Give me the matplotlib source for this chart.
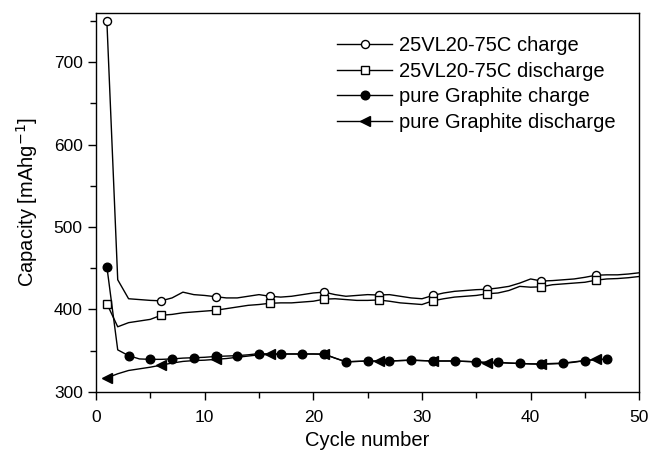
import numpy as np
import matplotlib

matplotlib.use("Agg")
import matplotlib.pyplot as plt
from matplotlib.ticker import MultipleLocator

plt.rcParams["font.family"] = ["Liberation Sans", "DejaVu Sans"]

# 25VL20-75C, cycles 1..50
vl_charge = [
    750, 436, 413, 412, 411, 410.5, 414, 421, 418, 417,
    415.5, 414, 414, 416, 418, 416, 415, 416, 418, 420,
    421, 418, 416, 417, 418, 417.5, 418, 416, 414, 413,
    417, 420, 422, 423, 424, 424.5, 426, 428, 432, 437,
    434.5, 435, 436, 437, 439, 441.5, 442, 442, 443, 444.5,
]
vl_discharge = [
    407, 379, 384, 386, 388, 393, 394, 396, 397, 398,
    399, 401, 403, 405, 406, 407.5, 408, 408, 409, 410,
    412.5, 413, 412, 411, 411, 411.5, 410, 408, 407, 406,
    410.5, 413, 415, 416, 417, 419, 420, 423, 428, 427,
    427.5, 430, 431, 432, 433, 435.5, 437, 437.5, 438.5, 440,
]

# pure graphite
gr_charge = [
    452, 351, 344, 340, 339.5, 339.5, 340, 341, 341.5, 342,
    343, 343.5, 344, 345, 346.5, 346, 346, 346, 346, 346,
    346, 341, 336.5, 337, 337.5, 337.5, 337.5, 338, 338.5, 338,
    337.5, 337.5, 337.5, 337, 336.5, 336, 336, 335, 334.5, 334,
    334, 334.5, 335, 336.5, 338, 339, 340,
]
gr_discharge = [
    317, 322, 326, 328, 330, 332.5, 335, 337, 338, 338.5,
    339.5, 340.5, 342, 343.5, 345, 345.5, 346, 346, 346, 346,
    345.5, 341, 336.5, 337, 337.5, 337, 337.5, 338, 338.5, 338,
    337.5, 337.5, 337.5, 337, 336.5, 334.5, 335.5, 335, 334.5, 334,
    333.5, 334, 334.5, 336, 338, 339.5,
]

labels = [
    "25VL20-75C charge",
    "25VL20-75C discharge",
    "pure Graphite charge",
    "pure Graphite discharge",
]

fig = plt.figure(figsize=(6.53, 4.51), dpi=100)
ax = fig.add_axes((0.147, 0.131, 0.832, 0.841))

cyc = lambda v: np.arange(1, len(v) + 1)

ax.plot(cyc(vl_charge), vl_charge, color="black", lw=1.0, marker="o", ms=5.8,
        mfc="white", mec="black", mew=1.0, markevery=5, label=labels[0])
ax.plot(cyc(vl_discharge), vl_discharge, color="black", lw=1.0, marker="s", ms=5.2,
        mfc="white", mec="black", mew=1.0, markevery=5, label=labels[1])
ax.plot(cyc(gr_charge), gr_charge, color="black", lw=1.0, marker="o", ms=6.2,
        mfc="black", mec="black", markevery=2, label=labels[2])
ax.plot(cyc(gr_discharge), gr_discharge, color="black", lw=1.0, marker="<", ms=6.5,
        mfc="black", mec="black", markevery=5, label=labels[3])

ax.set_xlim(0, 50)
ax.set_ylim(300, 760)
ax.xaxis.set_major_locator(MultipleLocator(10))
ax.xaxis.set_minor_locator(MultipleLocator(5))
ax.yaxis.set_major_locator(MultipleLocator(100))
ax.yaxis.set_minor_locator(MultipleLocator(50))
ax.tick_params(which="major", direction="out", length=6, width=1, labelsize=12.5)
ax.tick_params(axis="x", which="major", pad=7)
ax.tick_params(which="minor", direction="out", length=4, width=1)
for s in ax.spines.values():
    s.set_linewidth(1.0)

ax.set_xlabel("Cycle number", fontsize=14.5, labelpad=4)
ax.set_ylabel("Capacity [mAhg$^{-1}$]", fontsize=14.5, labelpad=10)

ax.legend(loc="upper right", frameon=False, fontsize=14.5, handlelength=2.73,
          handletextpad=0.33, labelspacing=0.33, borderpad=0.4,
          bbox_to_anchor=(0.99, 0.986))

fig.savefig("out.png", dpi=100)
